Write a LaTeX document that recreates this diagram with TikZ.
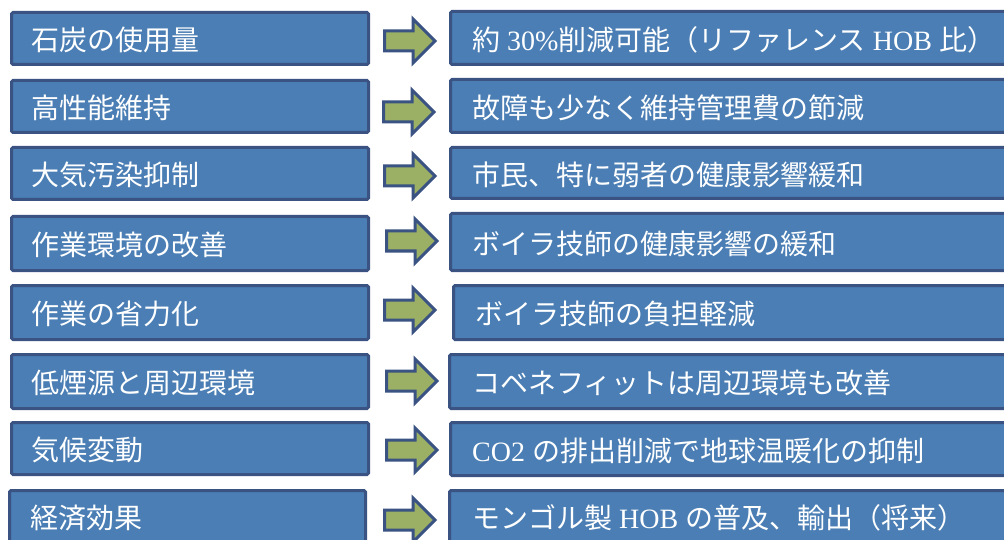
\documentclass[tikz,border=0pt]{standalone}
\usepackage{fontspec}
\setmainfont{Liberation Serif}
\newfontfamily\cjk{Noto Sans CJK JP}
\newcommand\J[1]{{\cjk #1}}
\definecolor{boxfill}{HTML}{4A7EB4}
\definecolor{boxline}{HTML}{3A5382}
\definecolor{arrfill}{HTML}{9BB065}
\tikzset{
  bluebox/.style={draw=boxline, fill=boxfill, line width=3pt, rounded corners=1.5pt, inner sep=0pt, outer sep=0pt},
  ltext/.style={text=white, font=\fontsize{28}{32}\selectfont\cjk, inner sep=0pt, anchor=west, text height=24.6pt, text depth=3.4pt},
  rtext/.style={text=white, font=\fontsize{28}{32}\selectfont, inner sep=0pt, anchor=west, text height=24.6pt, text depth=3.4pt},
  blockarrow/.style={draw=boxline, fill=arrfill, line width=3pt, line join=miter},
}
\newcommand\Bx[5]{\node[bluebox, minimum width={#4-#2-3}, minimum height={#5-#3-3}] (#1) at ({(#2+#4)/2},{(#3+#5)/2}) {};}
\newcommand\BArrow[3]{%
  \coordinate (#1) at (#2,#3);
  \draw[blockarrow] (#2+1.5,#3-10) -- (#2+30,#3-10) -- (#2+30,#3-22) -- (#2+52,#3) -- (#2+30,#3+22) -- (#2+30,#3+10) -- (#2+1.5,#3+10) -- cycle;}
\begin{document}
\begin{tikzpicture}[x=1pt,y=-1pt]
\useasboundingbox (0,0) rectangle (1004,540);
\clip (0,0) rectangle (1004,540);
\fill[white] (0,0) rectangle (1004,540);
% left boxes
\Bx{L1}{10}{11}{370}{66}
\Bx{L2}{10}{79}{370}{134}
\Bx{L3}{10}{146}{370}{201}
\Bx{L4}{10}{215}{370}{272}
\Bx{L5}{10}{284}{370}{341}
\Bx{L6}{10}{353}{370}{410}
\Bx{L7}{10}{421}{370}{476}
\Bx{L8}{8}{489}{367}{560}
% right boxes
\Bx{R1}{449}{10}{1020}{66}
\Bx{R2}{449}{78}{1020}{134}
\Bx{R3}{449}{146}{1020}{200}
\Bx{R4}{449}{212}{1020}{272}
\Bx{R5}{452}{284}{1020}{341}
\Bx{R6}{448}{353}{1020}{410}
\Bx{R7}{449}{421}{1020}{477}
\Bx{R8}{448}{489}{1020}{560}
% arrows
\BArrow{A1}{383}{41}
\BArrow{A2}{382}{112}
\BArrow{A3}{383}{176}
\BArrow{A4}{385}{241}
\BArrow{A5}{383}{310}
\BArrow{A6}{385}{381}
\BArrow{A7}{385}{450}
\BArrow{A8}{383}{520}
% left texts
\node[ltext] (L1t) at (31.5,40) {石炭の使用量};
\node[ltext] (L2t) at (31.5,108) {高性能維持};
\node[ltext] (L3t) at (31.5,175) {大気汚染抑制};
\node[ltext] (L4t) at (31.5,245) {作業環境の改善};
\node[ltext] (L5t) at (31.5,314) {作業の省力化};
\node[ltext] (L6t) at (31.5,383) {低煙源と周辺環境};
\node[ltext] (L7t) at (31.5,450) {気候変動};
\node[ltext] (L8t) at (30.5,518) {経済効果};
% right texts
\node[rtext] (R1t) at (472,39.5) {\J{約} 30\%\J{削減可能（リファレンス} HOB \J{比）}};
\node[rtext] (R2t) at (472,107.5) {\J{故障も少なく維持管理費の節減}};
\node[rtext] (R3t) at (472,174.5) {\J{市民、特に弱者の健康影響緩和}};
\node[rtext] (R4t) at (472,243.5) {\J{ボイラ技師の健康影響の緩和}};
\node[rtext] (R5t) at (475,314) {\J{ボイラ技師の負担軽減}};
\node[rtext] (R6t) at (472,383) {\J{コベネフィットは周辺環境も改善}};
\node[rtext] (R7t) at (472,450.5) {CO2 \J{の排出削減で地球温暖化の抑制}};
\node[rtext] (R8t) at (472,518) {\J{モンゴル製} HOB \J{の普及、輸出（将来）}};
\end{tikzpicture}
\end{document}
